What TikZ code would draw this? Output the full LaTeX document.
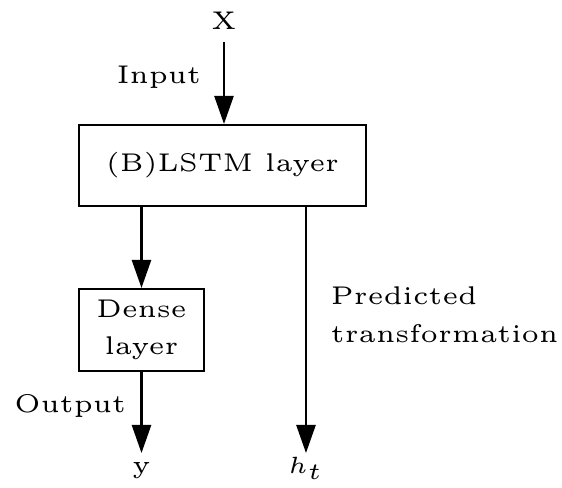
\documentclass[tikz,border=0pt]{standalone}
\usetikzlibrary{arrows.meta}
\begin{document}
\begin{tikzpicture}[
  x=0.2128pt, y=-0.2128pt,
  font=\fontsize{5.45}{7.9}\selectfont,
  every node/.style={inner sep=0pt},
  layerbox/.style={draw, line width=0.45pt, align=center},
  lbl/.style={anchor=base},
  arr/.style={line width=0.45pt, -{Triangle[width=4.1pt,length=6pt]}}
]
\useasboundingbox (0,0) rectangle (562,487);

% input and the recurrent layer
\node[lbl] (x) at (224,29) {X};
\node[layerbox, minimum width={287*0.2128pt}, minimum height={81*0.2128pt}]
  (lstm) at (222.5,165.5) {(B)LSTM layer};
\draw[arr] ([yshift=-2.8pt]x.base) -- (x.base |- lstm.north);
\node[lbl, anchor=base east] (inp) at (202,83) {Input};

% dense head
\node[layerbox, minimum width={125*0.2128pt}, minimum height={82*0.2128pt},
  text width={115*0.2128pt}, align=center] (dense) at (141.5,330) {Dense\\layer};
\draw[arr] (dense.north |- lstm.south) -- (dense.north);

% outputs
\node[lbl] (yout) at (141.5,473) {y};
\coordinate (ytip) at (141.5,453);
\draw[arr] (dense.south) -- (ytip);
\node[lbl, anchor=base east] (outl) at (127,412) {Output};

\node[lbl] (ht) at (306,473) {$h_t$};
\coordinate (httip) at (306,453);
\draw[arr] (httip |- lstm.south) -- (httip);
\node[anchor=base west, align=left] (pred) at (330,342) {Predicted\\transformation};
\end{tikzpicture}
\end{document}
